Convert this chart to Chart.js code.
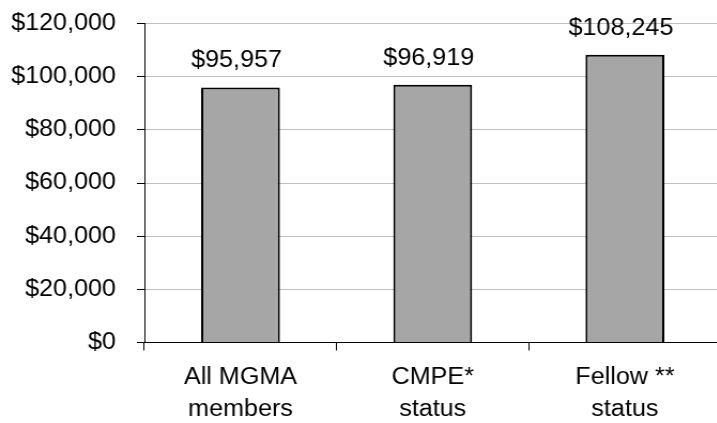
<!DOCTYPE html>
<html>
<head>
<meta charset="utf-8">
<script src="https://cdn.jsdelivr.net/npm/chart.js@4.4.1/dist/chart.umd.min.js"></script>
<style>
  html, body { margin: 0; padding: 0; background: #fff; overflow: hidden; }
  #c { display: block; }
</style>
</head>
<body>
<canvas id="c" width="674" height="423" style="width:721px;height:423px;"></canvas>
<script>
const categories = [["All MGMA", "members"], ["CMPE*", "status"], ["Fellow **", "status"]];
const salaries = [95957, 96919, 108245];
const yTickValues = [0, 20000, 40000, 60000, 80000, 100000, 120000];

const fmt = v => '$' + Number(v).toLocaleString('en-US');
const FONT = 'Liberation Sans, Arial, sans-serif';

const valueLabels = {
  id: 'valueLabels',
  afterDatasetsDraw(chart) {
    const ctx = chart.ctx;
    ctx.save();
    ctx.font = '23.5px ' + FONT;
    ctx.fillStyle = '#000';
    ctx.textAlign = 'center';
    ctx.textBaseline = 'alphabetic';
    chart.data.datasets.forEach((ds, di) => {
      chart.getDatasetMeta(di).data.forEach((bar, i) => {
        ctx.fillText(fmt(ds.data[i]), bar.x - 3.7, bar.y - 20);
      });
    });
    ctx.restore();
  }
};

new Chart(document.getElementById('c'), {
  type: 'bar',
  data: {
    labels: categories,
    datasets: [{
      data: salaries,
      backgroundColor: '#a6a6a6',
      borderColor: '#000',
      borderWidth: 2,
      borderSkipped: 'bottom',
      barPercentage: 0.41,
      categoryPercentage: 1
    }]
  },
  options: {
    responsive: false,
    animation: false,
    devicePixelRatio: 1,
    layout: { padding: { top: 23.5, left: 0, right: 0, bottom: 0 } },
    plugins: { legend: { display: false }, tooltip: { enabled: false } },
    scales: {
      x: {
        offset: true,
        grid: { offset: true, drawOnChartArea: false, drawTicks: true, tickLength: 8, tickColor: '#000', tickWidth: 1 },
        border: { display: true, color: '#000', width: 1 },
        ticks: { color: '#000', font: { family: FONT, size: 23.5, lineHeight: 1.35 }, padding: 11, maxRotation: 0, autoSkip: false },
        afterFit(scale) { scale.height = 80.5; scale.paddingLeft = 0; scale.paddingRight = 0; }
      },
      y: {
        min: 0, max: 120000,
        afterBuildTicks(scale) { scale.ticks = yTickValues.map(v => ({ value: v })); },
        grid: { color: '#c0c0c0', lineWidth: 1, drawTicks: true, tickLength: 7, tickColor: '#000' },
        border: { display: true, color: '#000', width: 1 },
        ticks: { color: '#000', font: { family: FONT, size: 23.5 }, padding: 19.6, callback: v => fmt(v) },
        afterFit(scale) { scale.width = 135; scale.paddingTop = 0; scale.paddingBottom = 0; }
      }
    }
  },
  plugins: [valueLabels]
});
</script>
</body>
</html>
